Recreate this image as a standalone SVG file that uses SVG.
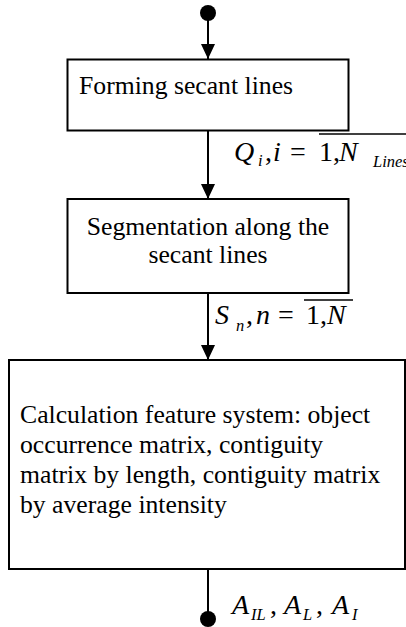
<svg xmlns="http://www.w3.org/2000/svg" width="406" height="627" viewBox="0 0 406 627">
<defs>
<marker id="ah" markerWidth="15" markerHeight="14" refX="15" refY="7" orient="auto" markerUnits="userSpaceOnUse">
<path d="M0,0 L15,7 L0,14 Z" fill="#000"/>
</marker>
<style>
.box{fill:#fff;stroke:#000;stroke-width:2}
.t{font-family:"Liberation Serif","Times New Roman","DejaVu Serif",serif;font-size:25.7px;fill:#000}
.m{font-family:"Liberation Serif","Times New Roman","DejaVu Serif",serif;font-size:28px;font-style:italic;fill:#000}
.u{font-style:normal}
.s{font-size:16.5px}
.c{stroke:#000;stroke-width:2;fill:none}
.ov{stroke:#000;stroke-width:1.5}
</style>
</defs>
<rect width="406" height="627" fill="#fff"/>
<g id="connectors">
<circle cx="208" cy="13" r="8" fill="#000"/>
<line class="c" x1="208" y1="13" x2="208" y2="59" marker-end="url(#ah)"/>
<line class="c" x1="208" y1="130" x2="208" y2="199" marker-end="url(#ah)"/>
<line class="c" x1="208" y1="293" x2="208" y2="360" marker-end="url(#ah)"/>
<line class="c" x1="208" y1="569" x2="208" y2="619"/>
<circle cx="208" cy="619" r="8" fill="#000"/>
<g id="label-q">
<text class="m" x="234" y="161">Q</text>
<text class="m s" x="258" y="166">i</text>
<text class="m u" x="265" y="161">,</text>
<text class="m" x="273" y="161">i</text>
<text class="m u" x="290" y="161">=</text>
<text class="m u" x="319" y="161">1,</text>
<text class="m" x="339" y="161">N</text>
<text class="m s" x="373" y="167">Lines</text>
<line class="ov" x1="319" y1="134" x2="406" y2="134"/>
</g>
<g id="label-s">
<text class="m" x="215" y="324">S</text>
<text class="m s" x="236" y="331">n</text>
<text class="m u" x="246" y="324">,</text>
<text class="m" x="256" y="324">n</text>
<text class="m u" x="278" y="324">=</text>
<text class="m u" x="306" y="324">1,</text>
<text class="m" x="327" y="324">N</text>
<line class="ov" x1="304" y1="300" x2="353" y2="300"/>
</g>
<g id="label-a">
<text class="m" x="232" y="614">A</text>
<text class="m s" x="251" y="620">IL</text>
<text class="m u" x="270" y="614">,</text>
<text class="m" x="284" y="614">A</text>
<text class="m s" x="303" y="620">L</text>
<text class="m u" x="316" y="614">,</text>
<text class="m" x="332" y="614">A</text>
<text class="m s" x="352" y="620">I</text>
</g>
</g>
<g id="node-forming">
<rect class="box" x="67.5" y="59.5" width="281" height="71"/>
<text class="t" x="79" y="94">Forming secant lines</text>
</g>
<g id="node-segmentation">
<rect class="box" x="67.5" y="199" width="281" height="94"/>
<text class="t" x="208" y="235" text-anchor="middle">Segmentation along the</text>
<text class="t" x="208" y="263" text-anchor="middle">secant lines</text>
</g>
<g id="node-calculation">
<rect class="box" x="9" y="360" width="396" height="209"/>
<text class="t" x="20" y="423">Calculation feature system: object</text>
<text class="t" x="20" y="453">occurrence matrix, contiguity</text>
<text class="t" x="20" y="483">matrix by length, contiguity matrix</text>
<text class="t" x="20" y="513">by average intensity</text>
</g>
</svg>
